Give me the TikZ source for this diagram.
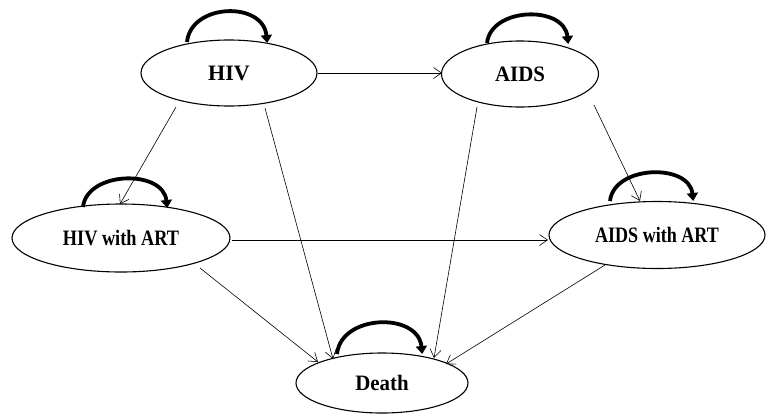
\documentclass[tikz,border=0pt]{standalone}
\usepackage{fontspec}
\setmainfont{Liberation Serif}
\usetikzlibrary{arrows.meta,shapes.geometric}
\tikzset{
  state/.style={draw, ellipse, line width=1.1pt, inner sep=0pt, font=\fontsize{22}{25}\selectfont\bfseries},
  trans/.style={line width=0.6pt, -{Straight Barb[length=8pt,width=11pt,line width=0.6pt]}},
  selfloop/.style={line width=3.8pt, -{Triangle[length=8pt,width=11pt]}, shorten >=-2pt},
}
\newcommand{\narrow}[2]{\scalebox{#1}[1]{#2}}
\begin{document}
\begin{tikzpicture}[x=1pt,y=-1pt]
\useasboundingbox (0,0) rectangle (767,416);
\node[state, minimum width=176pt, minimum height=66pt] (hiv) at (229,73) {HIV};
\node[state, minimum width=157pt, minimum height=66pt] (aids) at (520,74) {\narrow{0.95}{AIDS}};
\node[state, minimum width=218pt, minimum height=68pt] (ha) at (121,238) {\narrow{0.83}{HIV with ART}};
\node[state, minimum width=216pt, minimum height=67pt] (aa) at (657,235) {\narrow{0.82}{AIDS with ART}};
\node[state, minimum width=172pt, minimum height=60pt] (d) at (382,383) {\narrow{0.95}{Death}};
% self loops
\draw[selfloop] ([shift={(-42,-31)}]hiv.center) .. controls +(4,-39) and +(-4,-40) .. ([shift={(38,-32)}]hiv.center);
\draw[selfloop] ([shift={(-33,-31)}]aids.center) .. controls +(4,-36) and +(-4,-37) .. ([shift={(48,-32)}]aids.center);
\draw[selfloop] ([shift={(-38,-31)}]ha.center) .. controls +(4,-36) and +(-4,-37) .. ([shift={(46,-32)}]ha.center);
\draw[selfloop] ([shift={(-47,-34)}]aa.center) .. controls +(4,-36) and +(-4,-36) .. ([shift={(36,-36)}]aa.center);
\draw[selfloop] ([shift={(-45,-29)}]d.center) .. controls +(4,-40) and +(-4,-40) .. ([shift={(40,-31)}]d.center);
% transitions
\draw[trans] (hiv.east) -- ([shift={(-78,-1)}]aids.center);
\draw[trans] ([shift={(-53,34)}]hiv.center) -- ([shift={(-1,-34)}]ha.center);
\draw[trans] ([shift={(36,35)}]hiv.center) -- ([shift={(-49,-24)}]d.center);
\draw[trans] ([shift={(74,31)}]aids.center) -- ([shift={(-17,-34)}]aa.center);
\draw[trans] ([shift={(-43,33)}]aids.center) -- ([shift={(52,-25)}]d.center);
\draw[trans] ([shift={(111,2)}]ha.center) -- ([shift={(-109,5)}]aa.center);
\draw[trans] ([shift={(79,30)}]ha.center) -- ([shift={(-64,-21)}]d.center);
\draw[trans] ([shift={(-52,30)}]aa.center) -- ([shift={(64,-19)}]d.center);
\end{tikzpicture}
\end{document}
